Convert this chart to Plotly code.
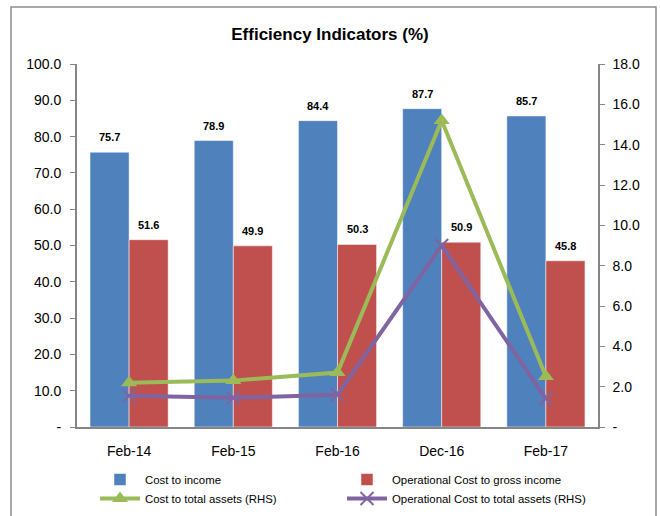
import plotly.graph_objects as go

# Efficiency indicators, in percent
periods = ["Feb-14", "Feb-15", "Feb-16", "Dec-16", "Feb-17"]
cost_to_income = [75.7, 78.9, 84.4, 87.7, 85.7]
opcost_to_gross_income = [51.6, 49.9, 50.3, 50.9, 45.8]
cost_to_total_assets = [2.2, 2.3, 2.7, 15.2, 2.5]          # right-hand scale
opcost_to_total_assets = [1.55, 1.45, 1.6, 9.0, 1.4]        # right-hand scale

left_ticks = [0, 10, 20, 30, 40, 50, 60, 70, 80, 90, 100]
left_ticktext = ["-"] + [f"{v:.1f}" for v in left_ticks[1:]]
right_ticks = [0, 2, 4, 6, 8, 10, 12, 14, 16, 18]
right_ticktext = ["-"] + [f"{v:.1f}" for v in right_ticks[1:]]

FONT = "Liberation Sans Narrow, Arial Narrow, Liberation Sans, Arial, sans-serif"
BLUE, RED, GREEN, PURPLE = "#4F81BD", "#C0504D", "#9BBB59", "#8064A2"
AXIS_GREY = "#868686"

PLOT_W, PLOT_H = 521, 363
BAR_HALF = PLOT_W / len(periods) * 0.75 / 4   # half of one bar's width in px

fig = go.Figure()

fig.add_bar(
    x=periods, y=cost_to_income, name="Cost to income",
    marker=dict(color=BLUE, line=dict(color="rgba(255,255,255,0.5)", width=1)),
)
fig.add_bar(
    x=periods, y=opcost_to_gross_income, name="Operational Cost to gross income",
    marker=dict(color=RED, line=dict(color="rgba(255,255,255,0.5)", width=1)),
)
fig.add_scatter(
    x=periods, y=cost_to_total_assets, name="Cost to total assets (RHS)",
    yaxis="y2", mode="lines+markers",
    line=dict(color=GREEN, width=4),
    marker=dict(symbol="triangle-up", size=14, color=GREEN),
)
fig.add_scatter(
    x=periods, y=opcost_to_total_assets, name="Operational Cost to total assets (RHS)",
    yaxis="y2", mode="lines+markers",
    line=dict(color=PURPLE, width=4),
    marker=dict(symbol="x-thin", size=13, color=PURPLE, line=dict(color=PURPLE, width=2)),
)

# value labels above each bar
label_font = dict(family=FONT, size=11, color="#000000", weight="bold")
annotations = []
for series, shift in ((cost_to_income, -BAR_HALF), (opcost_to_gross_income, BAR_HALF)):
    for p, v in zip(periods, series):
        annotations.append(dict(
            x=p, y=v, xref="x", yref="y", text=f"{v:.1f}", showarrow=False,
            xshift=shift, yshift=15, yanchor="middle", font=label_font,
        ))

fig.update_layout(
    width=660, height=516,
    margin=dict(l=77, r=62, t=64, b=89, autoexpand=False),
    paper_bgcolor="white", plot_bgcolor="white",
    font=dict(family=FONT, size=14, color="#000000"),
    title=dict(
        text="<b>Efficiency Indicators (%)</b>",
        x=0.5, xref="container", y=1 - 34 / 516, yref="container",
        yanchor="middle", font=dict(family=FONT, size=17, color="#000000"),
    ),
    barmode="group", bargap=0.25, bargroupgap=0,
    xaxis=dict(
        showline=True, linecolor=AXIS_GREY, linewidth=2,
        ticks="", showgrid=False, tickfont=dict(size=14),
        ticklabelstandoff=10,
    ),
    yaxis=dict(
        range=[0, 100], tickvals=left_ticks, ticktext=left_ticktext,
        showline=True, linecolor=AXIS_GREY, linewidth=2,
        ticks="outside", ticklen=5, tickcolor=AXIS_GREY,
        showgrid=False, zeroline=False, tickfont=dict(size=14),
        ticklabelstandoff=6,
    ),
    yaxis2=dict(
        range=[0, 18], tickvals=right_ticks, ticktext=right_ticktext,
        overlaying="y", side="right",
        showline=True, linecolor=AXIS_GREY, linewidth=1.5,
        ticks="outside", ticklen=5, tickcolor=AXIS_GREY,
        showgrid=False, zeroline=False, tickfont=dict(size=14),
        ticklabelstandoff=5,
    ),
    legend=dict(
        orientation="h", x=18 / PLOT_W, xanchor="left",
        y=-38 / PLOT_H, yanchor="top",
        entrywidth=192, entrywidthmode="pixels",
        font=dict(family=FONT, size=11.4), tracegroupgap=0,
        itemwidth=40,
    ),
    annotations=annotations,
    shapes=[dict(
        type="rect", xref="paper", yref="paper",
        x0=-66 / PLOT_W, x1=579 / PLOT_W, y0=-0.35, y1=420 / PLOT_H,
        line=dict(color="#8C8C8C", width=1.5), fillcolor="rgba(0,0,0,0)",
        layer="below",
    )],
)

fig.write_html("out.html")
